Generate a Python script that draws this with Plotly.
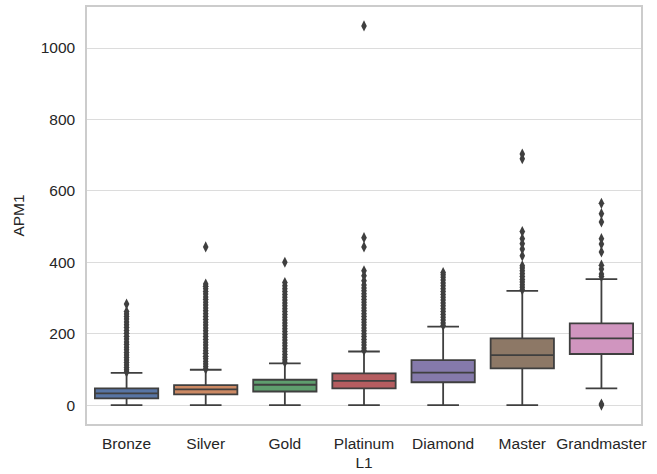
import plotly.graph_objects as go

# League tiers on the x axis
leagues = ["Bronze", "Silver", "Gold", "Platinum", "Diamond", "Master", "Grandmaster"]

# Box statistics of APM1 per league
q1 = [19, 30, 38, 47, 64, 103, 143]
median = [33, 44, 57, 68, 91, 140, 187]
q3 = [47, 56, 71, 89, 126, 187, 229]
lower_fence = [0, 0, 0, 0, 0, 0, 47]
upper_fence = [90, 99, 117, 150, 220, 320, 353]

# Outlying APM1 values per league
bronze_out = [93, 99, 105, 112, 119, 126, 133, 140, 147, 155, 162, 170, 177, 185, 193,
              201, 209, 217, 225, 233, 241, 248, 255, 262, 283]
silver_out = [101, 108, 115, 122, 130, 137, 145, 152, 160, 168, 176, 184, 192, 200, 208,
              216, 224, 232, 240, 248, 256, 264, 272, 280, 288, 296, 303, 311, 318, 326,
              333, 339, 443]
gold_out = [120, 127, 134, 142, 150, 158, 166, 174, 182, 190, 198, 206, 214, 222, 230,
            238, 246, 254, 262, 270, 278, 286, 294, 302, 310, 318, 326, 334, 343, 400]
platinum_out = [153, 160, 168, 176, 184, 192, 200, 208, 216, 224, 232, 240, 248, 256, 264,
                272, 280, 288, 296, 304, 312, 320, 328, 336, 348, 362, 376, 443, 469, 1062]
diamond_out = [223, 230, 238, 246, 254, 262, 270, 278, 286, 294, 302, 310, 318, 326, 334,
               342, 350, 358, 365, 371]
master_out = [323, 330, 337, 345, 352, 360, 368, 376, 384, 390, 418, 437, 452, 466, 486,
              690, 703]
grandmaster_out = [0, 3, 360, 367, 381, 392, 429, 451, 466, 513, 536, 565]

outliers = [bronze_out, silver_out, gold_out, platinum_out, diamond_out, master_out,
            grandmaster_out]

fills = ["#5875A4", "#CC8963", "#5F9E6E", "#B55D60", "#857AAB", "#8D7866", "#D095BF"]
edge = "#3f3f3f"
text_font = dict(family="Liberation Sans, Arial, sans-serif", size=15.5, color="#262626")

fig = go.Figure()

for i, name in enumerate(leagues):
    fig.add_trace(go.Box(
        x=[name],
        q1=[q1[i]], median=[median[i]], q3=[q3[i]],
        lowerfence=[lower_fence[i]], upperfence=[upper_fence[i]],
        fillcolor=fills[i],
        line=dict(color=edge, width=1.8),
        whiskerwidth=0.5,
        width=0.8,
        boxpoints=False,
        hoverinfo="skip",
        showlegend=False,
    ))

out_x = [leagues[i] for i, vals in enumerate(outliers) for _ in vals]
out_y = [v for vals in outliers for v in vals]
fig.add_trace(go.Scatter(
    x=out_x, y=out_y, mode="markers",
    marker=dict(symbol="diamond-tall", size=8, color=edge, line=dict(width=0)),
    showlegend=False, hoverinfo="skip",
))

fig.update_layout(
    width=657, height=474,
    margin=dict(l=87, r=16, t=7, b=50),
    plot_bgcolor="white", paper_bgcolor="white",
    boxmode="overlay",
    font=text_font,
)
fig.update_xaxes(
    type="category", categoryorder="array", categoryarray=leagues,
    range=[-0.5, 6.5],
    automargin=False,
    title=dict(text="L1", standoff=6, font=text_font),
    tickfont=text_font,
    showgrid=False, showline=True, mirror=True, linecolor="#cccccc", linewidth=1.5,
    ticks="", ticklabelstandoff=5,
)
fig.update_yaxes(
    range=[-53, 1115],
    tickvals=[0, 200, 400, 600, 800, 1000],
    automargin=False,
    title=dict(text="APM1", standoff=12, font=text_font),
    tickfont=text_font,
    showgrid=True, gridcolor="#dcdcdc", gridwidth=1,
    zeroline=False,
    showline=True, mirror=True, linecolor="#cccccc", linewidth=1.5,
    ticks="", ticklabelstandoff=7,
)

fig.write_html("out.html")
